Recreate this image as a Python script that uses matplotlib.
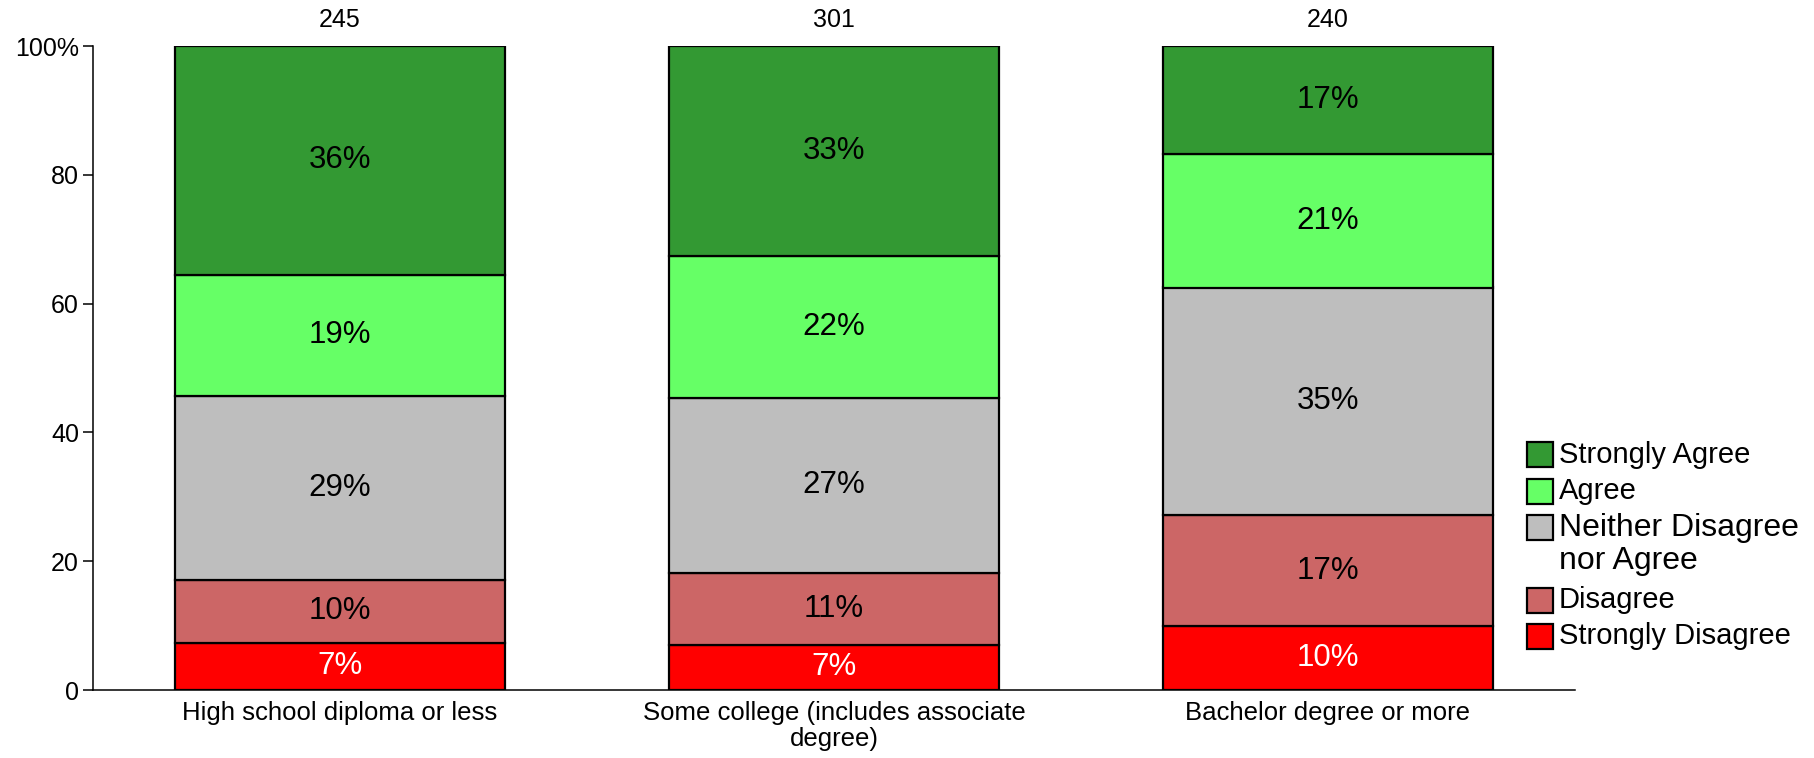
import matplotlib
matplotlib.use("Agg")
import matplotlib.pyplot as plt
from matplotlib.patches import Rectangle

plt.rcParams["font.family"] = ["Liberation Sans", "DejaVu Sans"]

# Survey data: share of respondents (%) per response level, by education
groups = ["High school diploma or less",
          "Some college (includes associate\ndegree)",
          "Bachelor degree or more"]
counts = [245, 301, 240]
levels = ["Strongly Disagree", "Disagree", "Neither Disagree\nnor Agree",
          "Agree", "Strongly Agree"]
strongly_disagree = [7.3, 7.0, 9.9]
disagree = [9.8, 11.2, 17.2]
neither = [28.6, 27.2, 35.4]
agree = [18.8, 22.0, 20.8]
strongly_agree = [35.5, 32.6, 16.7]
series = [strongly_disagree, disagree, neither, agree, strongly_agree]
colors = ["#FF0000", "#CC6666", "#BEBEBE", "#66FF66", "#339933"]
label_colors = ["white", "black", "black", "black", "black"]
yticks = [0, 20, 40, 60, 80, 100]
ytick_labels = ["0", "20", "40", "60", "80", "100%"]

W, H = 1815, 758
fig = plt.figure(figsize=(W / 100, H / 100), dpi=100)
ax_l, ax_r, ax_b, ax_t = 93, 1575, 690, 46
ax = fig.add_axes([ax_l / W, 1 - ax_b / H, (ax_r - ax_l) / W, (ax_b - ax_t) / H])

x = list(range(len(groups)))
bottom = [0.0] * len(groups)
for vals, col, tcol in zip(series, colors, label_colors):
    ax.bar(x, vals, width=0.668, bottom=bottom, color=col,
           edgecolor="black", linewidth=1.6, zorder=2)
    for xi, b, v in zip(x, bottom, vals):
        ax.text(xi, b + v / 2, f"{v:.0f}%", ha="center", va="center",
                fontsize=22.5, color=tcol, zorder=3)
    bottom = [b + v for b, v in zip(bottom, vals)]

# respondent counts above each bar
for xi, n in zip(x, counts):
    ax.annotate(f"{n}", xy=(xi, 100), xytext=(0, 19), textcoords="offset points",
                ha="center", va="center", fontsize=18, annotation_clip=False)

ax.set_xlim(-0.5, 2.5)
ax.set_ylim(0, 100)
ax.set_yticks(yticks)
ax.set_yticklabels(ytick_labels, fontsize=18)
ax.set_xticks(x)
ax.set_xticklabels(groups, fontsize=18.5, linespacing=1.1)
ax.tick_params(axis="y", length=7, width=1.1, pad=3)
ax.tick_params(axis="x", length=0, pad=8)
for s in ("top", "right"):
    ax.spines[s].set_visible(False)
for s in ("left", "bottom"):
    ax.spines[s].set_linewidth(1.1)

# legend, top entry first, each text line on its own slot
axw, axh = ax_r - ax_l, ax_b - ax_t
patch_x = (1527 - ax_l) / axw
patch_w = 26 / axw
patch_h = 25 / axh
text_x = (1559 - ax_l) / axw
slot0 = 455
step = 36.3
line = 0
for lab, col in zip(levels[::-1], colors[::-1]):
    yc = 1 - (slot0 + step * line - ax_t) / axh
    ax.add_patch(Rectangle((patch_x, yc - patch_h / 2), patch_w, patch_h,
                           transform=ax.transAxes, facecolor=col,
                           edgecolor="black", linewidth=1.6, clip_on=False))
    parts = lab.split("\n")
    fs = 23 if len(parts) > 1 else 21
    for k, part in enumerate(parts):
        yl = 1 - (slot0 + step * line - (3 if k else 0) - ax_t) / axh
        ax.text(text_x, yl, part, transform=ax.transAxes, ha="left",
                va="center", fontsize=fs)
        line += 1

fig.savefig("out.png", dpi=100)
